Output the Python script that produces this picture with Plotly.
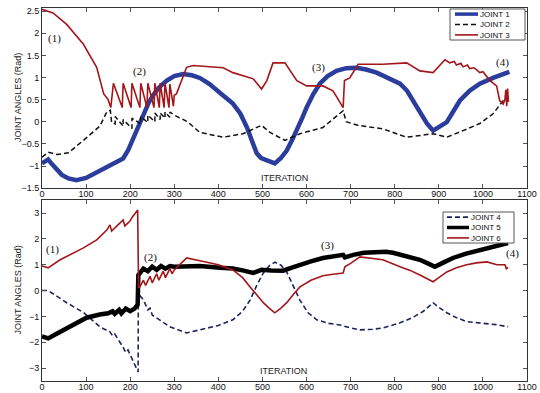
import plotly.graph_objects as go
from plotly.subplots import make_subplots

# ---------------- TOP PANEL DATA ----------------
j1_x = [0, 14, 22, 30, 45, 60, 78, 100, 130, 154, 170, 184, 195, 207, 218, 230, 242, 252, 265,
        283, 300, 320, 340, 358, 380, 404, 420, 433, 450, 465, 477, 487, 497, 510, 528, 542, 555,
        567, 578, 590, 600, 615, 630, 648, 668, 690, 713, 735, 759, 785, 812, 828, 842, 858, 873,
        887, 900, 918, 932, 948, 970, 993, 1023, 1060]
j1_y = [-0.94, -0.85, -0.95, -1.05, -1.2, -1.28, -1.32, -1.27, -1.12, -0.98, -0.92, -0.83, -0.65,
        -0.38, -0.1, 0.18, 0.43, 0.6, 0.77, 0.93, 1.03, 1.08, 1.05, 0.99, 0.85, 0.65, 0.5, 0.41,
        0.18, -0.13, -0.45, -0.71, -0.82, -0.87, -0.94, -0.82, -0.65, -0.42, -0.2, 0.08, 0.32,
        0.62, 0.86, 1.03, 1.15, 1.21, 1.22, 1.18, 1.11, 1.0, 0.86, 0.7, 0.48, 0.22, -0.04, -0.2,
        -0.12, -0.01, 0.22, 0.48, 0.7, 0.86, 0.99, 1.13]

j2_x = [0, 14, 35, 60, 94, 131, 147, 155, 158, 166, 166, 184, 184, 204, 204, 224, 224, 240, 240,
        256, 256, 268, 268, 279, 279, 290, 290, 300, 330, 358, 411, 456, 498, 517, 551, 585, 637,
        683, 690, 706, 716, 773, 827, 887, 918, 955, 993, 1023, 1046, 1059]
j2_y = [-0.8, -0.69, -0.74, -0.7, -0.42, -0.1, 0.22, 0.26, -0.02, -0.05, 0.12, -0.1, 0.05, -0.15,
        0.08, -0.05, 0.12, -0.02, 0.15, 0.0, 0.2, 0.05, 0.2, 0.08, 0.22, 0.1, 0.22, 0.15, 0.0,
        -0.24, -0.35, -0.27, -0.08, -0.24, -0.42, -0.27, -0.13, 0.25, 0.0, -0.04, -0.08, -0.16,
        -0.35, -0.27, -0.35, -0.2, -0.04, 0.18, 0.48, 0.55]

j3_x = [0, 25, 56, 94, 124, 140, 150, 156, 162, 182, 184, 202, 204, 222, 224, 238, 240, 254, 256,
        266, 268, 277, 279, 288, 290, 298, 300, 305, 328, 343, 358, 411, 433, 479, 498, 510, 524,
        551, 578, 600, 637, 660, 683, 686, 698, 717, 773, 827, 857, 887, 914, 925, 935, 940, 950,
        955, 965, 970, 980, 993, 1000, 1016, 1031, 1038, 1046, 1050, 1052, 1054, 1056, 1058]
j3_y = [2.54, 2.46, 2.2, 1.75, 1.23, 0.63, 0.5, 0.32, 0.87, 0.32, 0.87, 0.32, 0.87, 0.32, 0.87,
        0.32, 0.87, 0.32, 0.87, 0.32, 0.87, 0.32, 0.87, 0.32, 0.85, 0.35, 0.6, 0.63, 1.23, 1.27,
        1.26, 1.22, 1.11, 0.97, 0.74, 0.93, 1.33, 1.33, 0.93, 0.81, 0.81, 0.7, 0.32, 0.93, 0.99,
        1.3, 1.3, 1.33, 1.15, 1.11, 1.4, 1.33, 1.36, 1.28, 1.32, 1.24, 1.28, 1.2, 1.22, 1.11, 1.13,
        0.93, 0.81, 0.48, 0.4, 0.5, 0.72, 0.35, 0.75, 0.45]

# ---------------- BOTTOM PANEL DATA ----------------
j4_x = [0, 14, 56, 94, 131, 154, 160, 165, 184, 190, 195, 215, 218, 218.5, 222, 230, 240, 245,
        250, 260, 290, 328, 358, 400, 433, 455, 472, 487, 502, 515, 528, 542, 555, 570, 585, 603,
        623, 650, 676, 700, 721, 750, 773, 812, 840, 865, 887, 900, 918, 940, 963, 990, 1009,
        1030, 1057]
j4_y = [0.0, 0.0, -0.47, -0.85, -1.4, -1.6, -1.75, -1.68, -2.2, -2.4, -2.3, -3.06, -3.15, -0.17,
        -0.2, -0.36, -0.75, -0.68, -0.95, -1.06, -1.4, -1.64, -1.52, -1.35, -1.13, -0.8, -0.37,
        0.2, 0.68, 0.95, 1.1, 0.98, 0.72, 0.2, -0.37, -0.85, -1.13, -1.27, -1.33, -1.45, -1.52,
        -1.5, -1.45, -1.25, -1.05, -0.8, -0.47, -0.65, -0.86, -1.05, -1.2, -1.25, -1.27, -1.32,
        -1.4]

j5_x = [0, 14, 30, 56, 101, 131, 150, 160, 165, 175, 180, 190, 200, 210, 217, 218.5, 222, 230,
        240, 250, 260, 270, 280, 290, 300, 358, 404, 433, 455, 479, 490, 498, 520, 547, 565, 585,
        610, 637, 660, 683, 687, 700, 706, 730, 759, 780, 796, 812, 835, 857, 875, 891, 910, 932,
        960, 993, 1025, 1057]
j5_y = [-1.77, -1.85, -1.7, -1.45, -1.05, -0.93, -0.88, -0.8, -0.9, -0.75, -0.88, -0.7, -0.8,
        -0.7, -0.55, 0.6, 0.7, 0.85, 0.75, 0.92, 0.8, 0.95, 0.85, 0.95, 0.92, 0.95, 0.88, 0.85,
        0.78, 0.68, 0.75, 0.8, 0.78, 0.77, 0.88, 1.0, 1.13, 1.26, 1.33, 1.38, 1.28, 1.35, 1.38,
        1.46, 1.5, 1.5, 1.46, 1.38, 1.3, 1.19, 1.05, 0.92, 1.08, 1.26, 1.42, 1.57, 1.7, 1.84]

j6_x = [0, 14, 41, 94, 124, 147, 154, 158, 170, 184, 188, 200, 205, 217, 219, 222, 230, 235, 245,
        250, 260, 265, 275, 280, 290, 295, 300, 328, 358, 400, 433, 455, 472, 487, 502, 515, 528,
        542, 555, 570, 585, 610, 637, 660, 683, 687, 700, 721, 773, 812, 835, 857, 875, 887, 900,
        918, 940, 963, 985, 1009, 1032, 1045, 1050, 1053, 1057]
j6_y = [0.95, 0.88, 1.19, 1.65, 1.96, 2.34, 2.54, 2.3, 2.5, 2.73, 2.5, 2.7, 2.85, 3.12, 0.1, 0.15,
        0.4, 0.2, 0.55, 0.3, 0.65, 0.4, 0.75, 0.5, 0.85, 0.65, 0.8, 1.26, 1.15, 1.0, 0.8, 0.5,
        0.14, -0.17, -0.47, -0.68, -0.86, -0.68, -0.47, -0.15, 0.14, 0.4, 0.57, 0.63, 0.68, 0.92,
        1.05, 1.3, 1.19, 0.92, 0.78, 0.6, 0.45, 0.34, 0.5, 0.72, 0.88, 1.0, 1.07, 1.11, 1.0, 1.02,
        1.0, 0.85, 0.9]

x_ticks = list(range(0, 1101, 100))
top_y_ticks = [-1.5, -1, -0.5, 0, 0.5, 1, 1.5, 2, 2.5]
bot_y_ticks = [-3, -2, -1, 0, 1, 2, 3]

top_labels = [("(1)", 29, 1.89), ("(2)", 222, 1.13), ("(3)", 626, 1.22), ("(4)", 1045, 1.35)]
bot_labels = [("(1)", 23, 1.57), ("(2)", 245, 1.26), ("(3)", 648, 1.73), ("(4)", 1068, 1.42)]

top_names = ["JOINT 1", "JOINT 2", "JOINT 3"]
bot_names = ["JOINT 4", "JOINT 5", "JOINT 6"]

BLUE = "#2a3c9c"
RED = "#a3161a"
NAVY = "#1c2461"
DASH = "5px,3px"

top_styles = [dict(color=BLUE, width=4.5), dict(color="#111111", width=1.5, dash=DASH),
              dict(color=RED, width=1.6)]
bot_styles = [dict(color=NAVY, width=1.6, dash=DASH), dict(color="#000000", width=4.5),
              dict(color=RED, width=1.6)]

fig = make_subplots(rows=2, cols=1, vertical_spacing=0.032)

for (xx, yy), nm, st in zip([(j1_x, j1_y), (j2_x, j2_y), (j3_x, j3_y)], top_names, top_styles):
    fig.add_trace(go.Scatter(x=xx, y=yy, mode="lines", name=nm, line=st, showlegend=False,
                             hoverinfo="skip"), row=1, col=1)
for (xx, yy), nm, st in zip([(j4_x, j4_y), (j5_x, j5_y), (j6_x, j6_y)], bot_names, bot_styles):
    fig.add_trace(go.Scatter(x=xx, y=yy, mode="lines", name=nm, line=st, showlegend=False,
                             hoverinfo="skip"), row=2, col=1)

axis_common = dict(showgrid=False, zeroline=False, showline=True, linecolor="#333333",
                   linewidth=1, mirror="ticks", ticks="inside", ticklen=4, tickcolor="#555555",
                   automargin=False,
                   tickfont=dict(family="Arial", size=9, color="#111111"))

fig.update_xaxes(range=[0, 1100], tickvals=x_ticks, ticklabelstandoff=-3, **axis_common)
fig.update_yaxes(range=[-1.5, 2.57], tickvals=top_y_ticks, row=1, col=1, **axis_common)
fig.update_yaxes(range=[-3.5, 3.5], tickvals=bot_y_ticks, row=2, col=1, **axis_common)
fig.update_layout(yaxis=dict(domain=[0.517, 1.0]), yaxis2=dict(domain=[0.0, 0.485]))

ann = []
shapes = []
for txt, xx, yy in top_labels:
    ann.append(dict(x=xx, y=yy, xref="x", yref="y", text=txt, showarrow=False,
                    font=dict(family="Liberation Serif", size=11, color="#111111")))
for txt, xx, yy in bot_labels:
    ann.append(dict(x=xx, y=yy, xref="x2", yref="y2", text=txt, showarrow=False,
                    font=dict(family="Liberation Serif", size=11, color="#111111")))
# axis titles
for yc in [(0.517 + 1.0) / 2, 0.485 / 2]:
    ann.append(dict(x=0, y=yc, xref="paper", yref="paper", text="JOINT ANGLES (Rad)",
                    textangle=-90, showarrow=False, xanchor="center", yanchor="middle", xshift=-24,
                    font=dict(family="Arial", size=9, color="#222222")))
ann.append(dict(x=551, y=0.517, xref="x", yref="paper", text="ITERATION", showarrow=False,
                yanchor="bottom", yshift=3, font=dict(family="Arial", size=9, color="#222222")))
ann.append(dict(x=547, y=0.0, xref="x2", yref="paper", text="ITERATION", showarrow=False,
                yanchor="bottom", yshift=3, font=dict(family="Arial", size=9, color="#222222")))

# compact MATLAB-style legend boxes (pixel layout -> paper coords)
PL, PW, PB, PH = 42, 485, 381, 373
LEG_FONT = 8
LINE_H = LEG_FONT * 1.3


def px2x(px):
    return (px - PL) / PW


def py2y(py):
    return (PB - py) / PH


def add_legend(box, sample_x, text_x, names, styles):
    x0, x1, y0, y1 = box
    shapes.append(dict(type="rect", xref="paper", yref="paper", x0=px2x(x0), x1=px2x(x1),
                       y0=py2y(y1), y1=py2y(y0), line=dict(color="#555555", width=1),
                       fillcolor="white", layer="above"))
    yc = (y0 + y1) / 2.0
    for i, st in enumerate(styles):
        ry = yc + (i - 1) * LINE_H
        shapes.append(dict(type="line", xref="paper", yref="paper", x0=px2x(sample_x[0]),
                           x1=px2x(sample_x[1]), y0=py2y(ry), y1=py2y(ry), layer="above",
                           line=dict(color=st["color"], width=min(st["width"], 3.5),
                                     dash=st.get("dash", "solid"))))
    ann.append(dict(x=px2x(text_x), y=py2y(yc), xref="paper", yref="paper",
                    text="<br>".join(names), align="left", showarrow=False,
                    xanchor="left", yanchor="middle", borderpad=0,
                    font=dict(family="Arial", size=LEG_FONT, color="#111111")))


add_legend((450, 525, 9, 40), (455, 478), 479, top_names, top_styles)
add_legend((443, 514, 212, 243), (447, 469), 470, bot_names, bot_styles)

fig.update_layout(
    width=540, height=393,
    margin=dict(l=42, r=13, t=8, b=12, autoexpand=False),
    paper_bgcolor="white", plot_bgcolor="white",
    showlegend=False,
    hovermode=False,
    annotations=ann,
    shapes=shapes,
)

fig.write_html("out.html", config={"displayModeBar": False},
               post_script="document.body.style.margin='0';")
